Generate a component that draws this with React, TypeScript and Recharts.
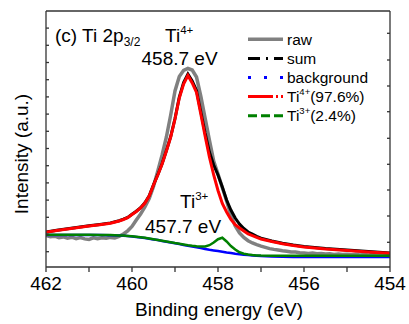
import React from "react";
import { LineChart, Line, XAxis, YAxis } from "recharts";

const FONT = "'Liberation Sans', Arial, Helvetica, sans-serif";

// Binding energy grid (eV) for the fitted curves
const fitEnergy = [462, 461.75, 461.5, 461.25, 461, 460.75, 460.5, 460.3, 460.2, 460.1, 460, 459.9, 459.8, 459.7, 459.6, 459.5, 459.4, 459.3, 459.2, 459.1, 459, 458.9, 458.8, 458.7, 458.6, 458.5, 458.4, 458.3, 458.2, 458.1, 458, 457.9, 457.8, 457.7, 457.6, 457.5, 457.4, 457.3, 457.2, 457.1, 457, 456.75, 456.5, 456.25, 456, 455.5, 455, 454.5, 454];

const sumValues = [35, 36.8, 38.3, 39.8, 41.3, 42.6, 44.1, 46.3, 47.8, 49.6, 52.8, 55.8, 59.3, 64.3, 71.3, 82.3, 92.3, 103.3, 116.5, 130.5, 148.5, 170, 184.5, 193, 186, 176.5, 155.5, 134, 115, 102, 92, 80, 67, 57, 49, 43, 38.5, 35, 32.8, 30.6, 28.8, 26, 23.8, 22, 20.5, 18.4, 16.9, 15.4, 14.1];

const ti4Values = [34.7, 36.5, 38, 39.5, 41, 42.3, 43.8, 46, 47.5, 49.3, 52.5, 55.5, 59, 64, 71, 82, 92, 103, 116, 130, 148, 169, 183, 191.5, 184, 174.5, 153, 131, 110, 92, 76.5, 63.5, 55, 47.5, 42.3, 39, 36, 33, 31.4, 29.6, 28, 25.5, 23.3, 21.5, 20, 18, 16.5, 15, 13.7];

const backgroundValues = [32, 32, 32, 32, 32, 31.9, 31.7, 31.4, 31.2, 30.9, 30.6, 30.1, 29.6, 29, 28.3, 27.6, 26.9, 26.1, 25.3, 24.5, 23.7, 22.9, 22.1, 21.3, 20.5, 19.7, 18.9, 18.1, 17.3, 16.6, 15.9, 15.2, 14.5, 13.9, 13.3, 12.8, 12.3, 11.9, 11.5, 11.2, 10.9, 10.5, 10.3, 10.1, 10, 10, 10, 10, 10];

const ti3Values = [32.2, 32.2, 32.2, 32.2, 32.2, 32.1, 31.9, 31.6, 31.4, 31.1, 30.8, 30.3, 29.8, 29.2, 28.5, 27.8, 27.1, 26.3, 25.5, 24.7, 23.9, 23.2, 22.5, 21.8, 21.2, 20.7, 20.4, 20.5, 21.8, 24.5, 27.8, 29.3, 25.5, 21, 17.5, 14.7, 13.2, 12.4, 11.9, 11.6, 11.4, 11.3, 11.3, 11.3, 11.3, 11.3, 11.3, 11.3, 11.3];

// Raw spectrum
const rawEnergy = [462.0, 461.9, 461.8, 461.7, 461.6, 461.5, 461.4, 461.3, 461.2, 461.1, 461.0, 460.9, 460.8, 460.7, 460.6, 460.5, 460.4, 460.3, 460.2, 460.1, 460.0, 459.9, 459.8, 459.7, 459.6, 459.5, 459.4, 459.3, 459.2, 459.1, 459.0, 458.9, 458.8, 458.7, 458.6, 458.5, 458.4, 458.3, 458.2, 458.1, 458.0, 457.9, 457.8, 457.7, 457.6, 457.5, 457.4, 457.3, 457.2, 457.1, 457.0, 456.9, 456.8, 456.7, 456.6, 456.5, 456.4, 456.3, 456.2, 456.1, 456.0, 455.9, 455.8, 455.7, 455.6, 455.5, 455.4, 455.3, 455.2, 455.1, 455.0, 454.9, 454.8, 454.7, 454.6, 454.5, 454.4, 454.3, 454.2, 454.1, 454.0];
const rawValues = [31.5, 30.2, 30.8, 29.4, 30.1, 28.9, 29.8, 28.4, 29.5, 28.1, 27.6, 29.2, 28.3, 29.3, 28.7, 29.6, 29.0, 30.6, 33.0, 36.2, 40.5, 47.0, 53.0, 60.0, 68.5, 80.5, 96.0, 112.0, 130.0, 152.0, 176.0, 190.5, 196.5, 198.5, 197.0, 190.0, 171.0, 149.0, 127.0, 106.0, 93.0, 79.5, 66.0, 51.5, 41.0, 34.0, 29.5, 26.3, 24.0, 22.3, 20.8, 19.6, 18.4, 17.6, 16.9, 16.2, 15.8, 15.1, 14.9, 14.3, 14.1, 13.6, 13.9, 13.2, 13.5, 12.9, 13.3, 12.6, 13.0, 12.4, 12.8, 12.2, 12.7, 12.1, 12.5, 11.9, 12.4, 11.8, 12.2, 11.7, 12.0];

const xTicks = [462, 461, 460, 459, 458, 457, 456, 455, 454];
const leftTicks = [15.3, 32.5, 49.7, 66.9, 84.1, 101.3, 118.5, 135.7, 152.9, 170.1, 187.3, 204.5, 221.7, 238.9];
const rightTicks = [24.7, 51, 77, 102.7, 128.7, 155.3, 181, 207, 233.7];

const legendItems = [
  { name: "raw", sup: "", tail: "", color: "#808080", dash: "", width: 3.5 },
  { name: "sum", sup: "", tail: "", color: "#000000", dash: "12 6 2 6", width: 3 },
  { name: "background", sup: "", tail: "", color: "#0000ff", dash: "3 13", width: 3 },
  { name: "Ti", sup: "4+", tail: "(97.6%)", color: "#ff0000", dash: "25 3 2 3 2 3", width: 3 },
  { name: "Ti", sup: "3+", tail: "(2.4%)", color: "#008000", dash: "9 4", width: 3 },
];

const fitData = (vals: number[]) => fitEnergy.map((e, i) => ({ E: e, v: vals[i] }));
const rawData = rawEnergy.map((e, i) => ({ E: e, v: rawValues[i] }));

const AXIS = "#333";

export default function App() {
  return (
    <div style={{ position: "relative", width: 409, height: 324, background: "#fff" }}>
      <style>{`body{margin:0;}`}</style>
      <LineChart width={409} height={324} margin={{ top: 11, right: 19, bottom: 17, left: 46 }}>
        <XAxis
          dataKey="E"
          type="number"
          domain={[454, 462]}
          reversed
          allowDataOverflow
          ticks={xTicks}
          interval={0}
          height={40}
          tickSize={5}
          tickMargin={5}
          stroke={AXIS}
          strokeWidth={1.3}
          tickFormatter={(v: number) => (v % 2 === 0 ? String(v) : "")}
          tick={{ fontSize: 19, fill: "#000", fontFamily: FONT }}
        />
        <XAxis
          xAxisId="top"
          dataKey="E"
          type="number"
          orientation="top"
          domain={[454, 462]}
          reversed
          allowDataOverflow
          mirror
          tick={false}
          tickLine={false}
          stroke={AXIS}
          strokeWidth={1.3}
        />
        <YAxis
          yAxisId="left"
          type="number"
          domain={[0, 256]}
          allowDataOverflow
          mirror
          ticks={leftTicks}
          interval={0}
          tickSize={3}
          tickFormatter={() => ""}
          stroke={AXIS}
          strokeWidth={1.3}
        />
        <YAxis
          yAxisId="right"
          orientation="right"
          type="number"
          domain={[0, 256]}
          allowDataOverflow
          mirror
          ticks={rightTicks}
          interval={0}
          tickSize={3}
          tickFormatter={() => ""}
          stroke={AXIS}
          strokeWidth={1.3}
        />
        <Line yAxisId="left" data={rawData} dataKey="v" stroke="#808080" strokeWidth={3.5} dot={false} isAnimationActive={false} />
        <Line yAxisId="left" data={fitData(sumValues)} dataKey="v" stroke="#000" strokeWidth={3} dot={false} isAnimationActive={false} />
        <Line yAxisId="left" data={fitData(ti4Values)} dataKey="v" stroke="#ff0000" strokeWidth={3} dot={false} isAnimationActive={false} />
        <Line yAxisId="left" data={fitData(backgroundValues)} dataKey="v" stroke="#0000ff" strokeWidth={2.5} dot={false} isAnimationActive={false} />
        <Line yAxisId="left" data={fitData(ti3Values)} dataKey="v" stroke="#008000" strokeWidth={2.5} dot={false} isAnimationActive={false} />
      </LineChart>
      <svg
        width={409}
        height={324}
        style={{ position: "absolute", left: 0, top: 0, pointerEvents: "none" }}
        fontFamily={FONT}
      >
        <text x={55} y={41.7} fontSize={19} fill="#000">
          (c) Ti 2p
          <tspan fontSize={12} dy={4.5}>3/2</tspan>
        </text>
        <text x={165} y={41.7} fontSize={19} fill="#000">
          Ti
          <tspan fontSize={11.5} dy={-8}>4+</tspan>
        </text>
        <text x={141.5} y={65} fontSize={19} fill="#000">458.7 eV</text>
        <text x={180} y={208} fontSize={19} fill="#000">
          Ti
          <tspan fontSize={11.5} dy={-8}>3+</tspan>
        </text>
        <text x={145} y={233} fontSize={19} fill="#000">457.7 eV</text>
        <text x={219} y={315.5} fontSize={19} fill="#000" textAnchor="middle">Binding energy (eV)</text>
        <text
          x={0}
          y={0}
          fontSize={19}
          fill="#000"
          textAnchor="middle"
          transform="translate(28,154) rotate(-90)"
        >
          Intensity (a.u.)
        </text>
        {legendItems.map((it, i) => {
          const cy = 39.3 + i * 19.1;
          return (
            <g key={i}>
              <line
                x1={248}
                x2={283}
                y1={cy}
                y2={cy}
                stroke={it.color}
                strokeWidth={it.width}
                strokeDasharray={it.dash || undefined}
              />
              <text x={287} y={cy + 5.5} fontSize={15.5} fill="#000">
                {it.name}
                {it.sup ? (
                  <tspan fontSize={9.5} dy={-7}>{it.sup}</tspan>
                ) : null}
                {it.tail ? <tspan dy={it.sup ? 7 : 0}>{it.tail}</tspan> : null}
              </text>
            </g>
          );
        })}
      </svg>
    </div>
  );
}
